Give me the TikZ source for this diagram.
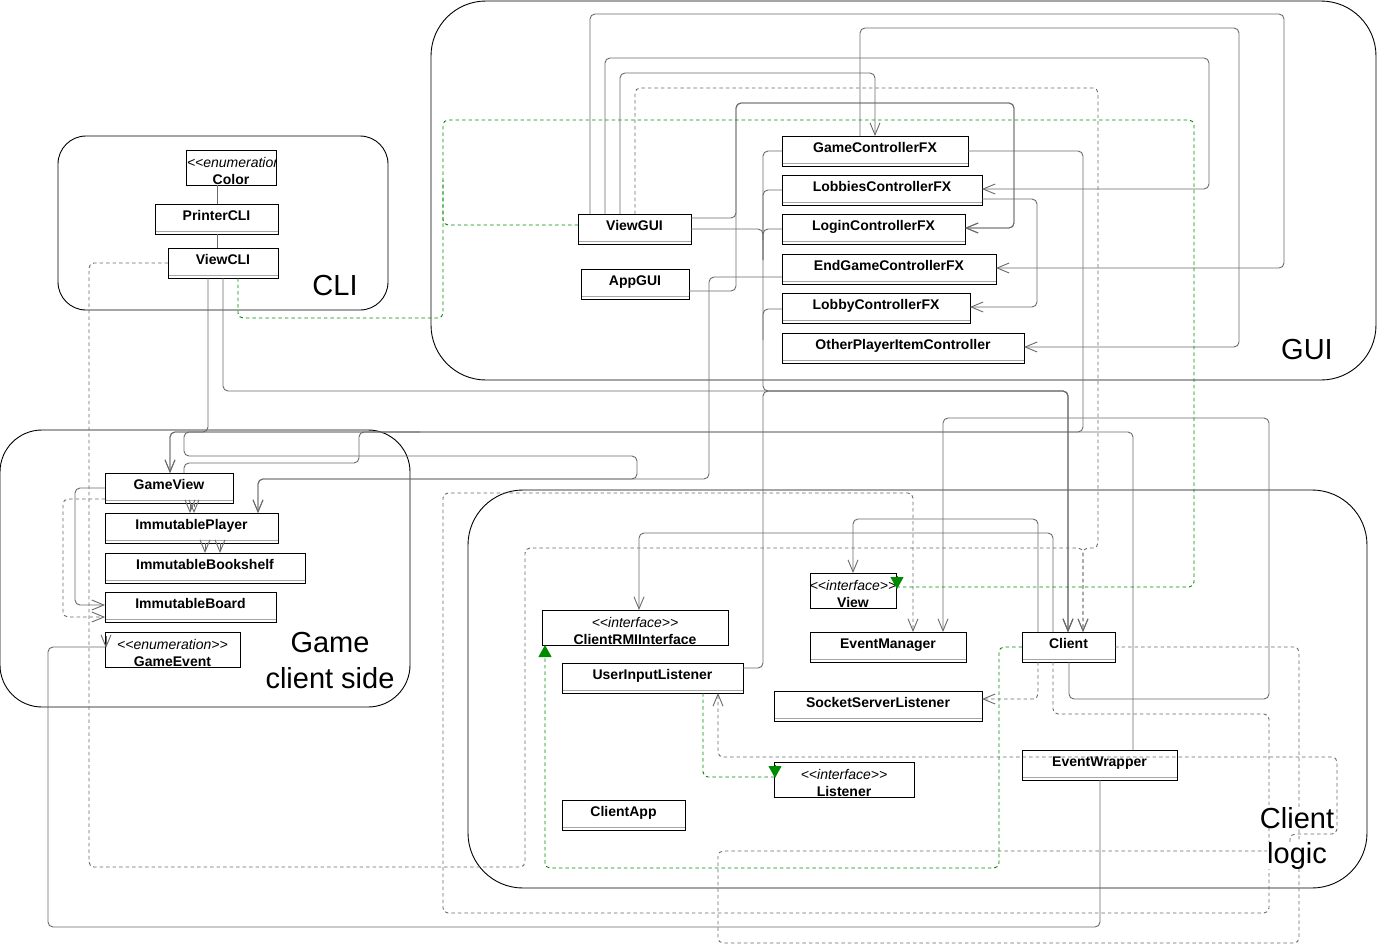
\documentclass[tikz,border=0pt]{standalone}
\usepackage{fontspec}
\setmainfont{Liberation Sans}
\usetikzlibrary{arrows.meta,calc}
\definecolor{edge}{HTML}{6A6A6A}
\definecolor{realize}{HTML}{008A00}
\newcommand{\ltlt}{<\kern0pt<}
\newcommand{\gtgt}{>\kern0pt>}
\begin{document}
\begin{tikzpicture}[x=1pt,y=-1pt,
  every node/.style={inner sep=0pt,outer sep=0pt},
  grp/.style={draw=black,line width=0.9pt,rounded corners=#1},
  cls/.style={draw=black,line width=1pt,fill=white,anchor=north west,
    minimum width=#1,minimum height=30pt,text height=10pt,text depth=7pt,
    font=\bfseries\fontsize{14}{16}\selectfont,
    path picture={\draw[gray!70,line width=0.8pt]
      ([yshift=2.5pt]path picture bounding box.south west) --
      ([yshift=2.5pt]path picture bounding box.south east);}},
  stb/.style={draw=black,line width=1pt,fill=white,anchor=north west,
    minimum width=#1,minimum height=35pt},
  stt/.style={anchor=base,font=\itshape\fontsize{14}{16}\selectfont},
  stn/.style={anchor=base,font=\bfseries\fontsize{14}{16}\selectfont},
  lbl/.style={anchor=base,font=\fontsize{29}{32}\selectfont},
  edge/.style={draw=edge,line width=0.9pt,rounded corners=5pt},
  dep/.style={edge,dash pattern=on 3.5pt off 3pt},
  real/.style={draw=realize,line width=0.9pt,rounded corners=5pt,dash pattern=on 3.5pt off 3pt},
  open/.style={-{Straight Barb[length=12pt,width=10pt]}},
  filled/.style={-{Triangle[length=12pt,width=13pt,fill=realize]}}
]
\useasboundingbox (0,0) rectangle (1377,946);

% package frames
\draw[grp=28pt] (58,136) rectangle (388,310);
\draw[grp=55pt] (431,1) rectangle (1376,380);
\draw[grp=42pt] (0,430) rectangle (410,707);
\draw[grp=55pt] (468,490) rectangle (1367,888);

% CLI classes
\node[stb=90pt] (color) at (186,150) {};
\begin{scope}
  \clip (color.north west) rectangle (color.south east);
  \node[stt,anchor=base west] (color-st) at ($(color.north west)+(1,17)$) {\ltlt enumeration\gtgt};
\end{scope}
\node[stn] (color-nm) at ($(color.north)+(0,34)$) {Color};
\node[cls=123pt] (printercli) at (155,204) {PrinterCLI};
\node[cls=110pt] (viewcli) at (168,248) {ViewCLI};

% GUI classes
\node[cls=113pt] (viewgui) at (578,214) {ViewGUI};
\node[cls=108pt] (appgui) at (581,269) {AppGUI};
\node[cls=186pt] (gamectl) at (782,136) {GameControllerFX};
\node[cls=200pt] (lobbiesctl) at (782,175) {LobbiesControllerFX};
\node[cls=183pt] (loginctl) at (782,214) {LoginControllerFX};
\node[cls=214pt] (endgamectl) at (782,254) {EndGameControllerFX};
\node[cls=188pt] (lobbyctl) at (782,293) {LobbyControllerFX};
\node[cls=242pt] (otherplayer) at (782,333) {OtherPlayerItemController};

% game model seen by the client
\node[cls=128pt] (gameview) at (105,473) {GameView};
\node[cls=173pt] (immplayer) at (105,513) {ImmutablePlayer};
\node[cls=200pt] (immbookshelf) at (105,553) {ImmutableBookshelf};
\node[cls=171pt] (immboard) at (105,592) {ImmutableBoard};
\node[stb=135pt] (gameevent) at (105,632) {};
\node[stt] (gameevent-st) at ($(gameevent.north)+(0,17)$) {\ltlt enumeration\gtgt};
\node[stn] (gameevent-nm) at ($(gameevent.north)+(0,34)$) {GameEvent};

% client logic classes
\node[stb=186pt] (clientrmi) at (542,610) {};
\node[stt] (clientrmi-st) at ($(clientrmi.north)+(0,17)$) {\ltlt interface\gtgt};
\node[stn] (clientrmi-nm) at ($(clientrmi.north)+(0,34)$) {ClientRMIInterface};
\node[cls=181pt] (userinput) at (562,663) {UserInputListener};
\node[stb=86pt] (view) at (810,573) {};
\node[stt] (view-st) at ($(view.north)+(0,17)$) {\ltlt interface\gtgt};
\node[stn] (view-nm) at ($(view.north)+(0,34)$) {View};
\node[cls=156pt] (eventmanager) at (810,632) {EventManager};
\node[cls=93pt] (client) at (1022,632) {Client};
\node[cls=208pt] (socketserver) at (774,691) {SocketServerListener};
\node[stb=140pt] (listener) at (774,762) {};
\node[stt] (listener-st) at ($(listener.north)+(0,17)$) {\ltlt interface\gtgt};
\node[stn] (listener-nm) at ($(listener.north)+(0,34)$) {Listener};
\node[cls=123pt] (clientapp) at (562,800) {ClientApp};
\node[cls=155pt] (eventwrapper) at (1022,750) {EventWrapper};

% CLI links
\draw[edge] (color.south -| 217,0) -- (printercli.north -| 217,0);
\draw[edge] (printercli.south -| 217,0) -- (viewcli.north -| 217,0);

% ViewGUI to the controllers
\draw[edge,open] (viewgui.north -| 590,0) -- (590,14) -- (1284,14) -- (1284,268) -- (endgamectl.east |- 0,268);
\draw[edge,open] (viewgui.north -| 605,0) -- (605,58) -- (1209,58) -- (1209,189) -- (lobbiesctl.east |- 0,189);
\draw[edge,open] (viewgui.north -| 620,0) -- (620,73) -- (875,73) -- (gamectl.north -| 875,0);
\draw[edge,open] (gamectl.north -| 860,0) -- (860,28) -- (1239,28) -- (1239,347) -- (otherplayer.east |- 0,347);
\draw[edge,open] (viewgui.east |- 0,218) -- (736,218) -- (736,103) -- (1014,103) -- (1014,228) -- (loginctl.east |- 0,228);
\draw[edge,open] (appgui.east |- 0,291) -- (736,291) -- (736,103) -- (1014,103) -- (1014,228) -- (loginctl.east |- 0,228);
\draw[edge,open] (lobbiesctl.east |- 0,199) -- (1037,199) -- (1037,307) -- (lobbyctl.east |- 0,307);

% controllers, views and input to Client
\draw[edge,open] (viewcli.south -| 223,0) -- (223,391) -- (1068,391) -- (client.north -| 1068,0);
\draw[edge,open] (gamectl.west |- 0,151) -- (763,151) -- (763,391) -- (1068,391) -- (client.north -| 1068,0);
\draw[edge] (lobbiesctl.west |- 0,190) -- (763,190) -- (763,240);
\draw[edge] (loginctl.west |- 0,229) -- (763,229) -- (763,260);
\draw[edge] (viewgui.east |- 0,229) -- (763,229) -- (763,260);
\draw[edge] (lobbyctl.west |- 0,309) -- (763,309) -- (763,340);
\draw[edge,open] (userinput.east |- 0,668) -- (763,668) -- (763,391) -- (1068,391) -- (client.north -| 1068,0);

% links into the game model
\draw[edge,open] (viewcli.south -| 208,0) -- (208,432) -- (170,432) -- (gameview.north -| 170,0);
\draw[edge,open] (gamectl.east |- 0,151) -- (1083,151) -- (1083,432) -- (170,432) -- (gameview.north -| 170,0);
\draw[edge,open] (eventwrapper.north -| 1133,0) -- (1133,432) -- (184,432) -- (184,456) -- (637,456) -- (637,479) -- (258,479) -- (immplayer.north -| 258,0);
\draw[edge] (gameview.north -| 184,0) -- (184,463) -- (359,463) -- (359,432) -- (420,432);
\draw[edge,open] (endgamectl.west |- 0,277) -- (709,277) -- (709,479) -- (258,479) -- (immplayer.north -| 258,0);
\draw[edge,open] (gameview.west |- 0,488) -- (75,488) -- (75,605) -- (immboard.west |- 0,605);
\draw[dep,open] (gameview.west |- 0,499) -- (63,499) -- (63,617) -- (immboard.west |- 0,617);
\draw[edge,open] (gameview.south -| 190,0) -- (immplayer.north -| 190,0);
\draw[dep,open] (gameview.south -| 194,0) -- (immplayer.north -| 194,0);
\draw[edge,open] (immplayer.south -| 205,0) -- (immbookshelf.north -| 205,0);
\draw[edge,open] (immplayer.south -| 220,0) -- (immbookshelf.north -| 220,0);
\draw[edge] (eventwrapper.south -| 1100,0) -- (1100,927) -- (48,927) -- (48,647) -- (gameevent.west |- 0,647);
\draw[edge,open] ($(gameevent.north west)+(1,4)$) -- ($(gameevent.north west)+(1,16)$);

% Client outgoing links
\draw[edge,open] (client.north -| 1038,0) -- (1038,519) -- (853,519) -- (view.north -| 853,0);
\draw[edge,open] (client.north -| 1053,0) -- (1053,533) -- (639,533) -- (clientrmi.north -| 639,0);
\draw[edge,open] (client.south -| 1069,0) -- (1069,699) -- (1269,699) -- (1269,418) -- (943,418) -- (eventmanager.north -| 943,0);
\draw[dep,open] (client.south -| 1053,0) -- (1053,714) -- (1269,714) -- (1269,913) -- (443,913) -- (443,493) -- (913,493) -- (eventmanager.north -| 913,0);
\draw[dep,open] (client.south -| 1038,0) -- (1038,699) -- (socketserver.east |- 0,699);
\draw[dep,open] (client.east |- 0,647) -- (1299,647) -- (1299,943) -- (718,943) -- (718,851) -- (1290,851) -- (1290,834) -- (1337,834) -- (1337,757) -- (718,757) -- (userinput.south -| 718,0);

% dependencies of the two views on Client
\draw[dep,open] (viewcli.west |- 0,263) -- (89,263) -- (89,867) -- (525,867) -- (525,548) -- (1083,548) -- (client.north -| 1083,0);
\draw[dep,open] (viewgui.north -| 635,0) -- (635,88) -- (1098,88) -- (1098,548) -- (1083,548) -- (client.north -| 1083,0);

% realizations
\draw[real] (viewcli.south -| 238,0) -- (238,318) -- (443,318) -- (443,120) -- (1194,120) -- (1194,587) -- (view.east |- 0,587);
\draw[real] (viewgui.west |- 0,225) -- (443,225) -- (443,180);
\draw[draw=realize,line width=0.9pt,filled] ($(view.north east)+(1,3)$) -- ($(view.north east)+(1,16)$);
\draw[real,filled] (client.west |- 0,647) -- (999,647) -- (999,868) -- (545,868) -- (clientrmi.south -| 545,0);
\draw[real] (userinput.south -| 703,0) -- (703,777) -- (listener.west |- 0,777);
\draw[draw=realize,line width=0.9pt,filled] ($(listener.north west)+(1,3)$) -- ($(listener.north west)+(1,16)$);

% package names
\node[lbl] (cli-lbl) at (335,295) {CLI};
\node[lbl] (gui-lbl) at (1307,359) {GUI};
\node[lbl] (gcs-lbl1) at (330,652) {Game};
\node[lbl] (gcs-lbl2) at (330,688) {client side};
\node[lbl,fill=white] (cl-lbl1) at (1297,828) {Client};
\node[lbl,fill=white] (cl-lbl2) at (1297,863) {logic};
\end{tikzpicture}
\end{document}
